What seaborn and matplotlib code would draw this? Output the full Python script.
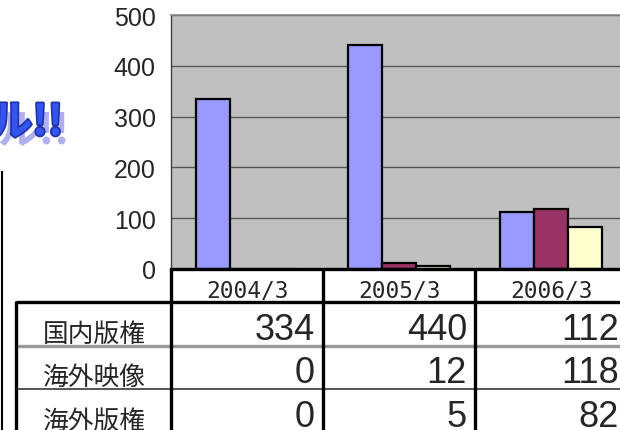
import matplotlib
matplotlib.use("Agg")
import matplotlib.pyplot as plt
import matplotlib.patheffects as pe
import seaborn as sns
import pandas as pd

# データ
periods = ["2004/3", "2005/3", "2006/3"]
series = ["国内版権", "海外映像", "海外版権"]
domestic = [334, 440, 112]
overseas_video = [0, 12, 118]
overseas_rights = [0, 5, 82]
yticks = [0, 100, 200, 300, 400, 500]
colors = ["#9999FF", "#993366", "#FFFFCC"]

values = [domestic, overseas_video, overseas_rights]
df = pd.DataFrame({
    "期": [p for s in series for p in periods],
    "系列": [s for s in series for p in periods],
    "値": [v for vals in values for v in vals],
})

sns.set_style("white")
plt.rcParams["font.family"] = ["Noto Sans CJK JP", "DejaVu Sans"]

W, H = 620, 431
AX_L, AX_R, AX_T, AX_B = 171, 627, 16, 270
ROWS = [303, 347, 390, 434]

fig = plt.figure(figsize=(W / 100, H / 100), dpi=100)
fig.patch.set_facecolor("white")

ax = fig.add_axes([AX_L / W, 1 - AX_B / H, (AX_R - AX_L) / W, (AX_B - AX_T) / H])
ax.set_facecolor("#C0C0C0")
sns.barplot(data=df, x="期", y="値", hue="系列", order=periods, hue_order=series,
            palette=colors, saturation=1, width=0.67, edgecolor="black",
            linewidth=1.6, legend=False, ax=ax)
ax.set_xlim(-0.5, len(periods) - 0.5)
ax.set_ylim(0, 500)
ax.set_yticks(yticks)
ax.set_yticklabels([str(t) for t in yticks], family="Liberation Sans", fontsize=18)
ax.set_xticks([])
ax.set_xlabel("")
ax.set_ylabel("")
ax.yaxis.grid(True, color="#555555", linewidth=1)
ax.set_axisbelow(True)
ax.tick_params(axis="y", direction="out", length=4, width=1, color="#404040", pad=7)
ax.spines["right"].set_visible(False)
ax.spines["top"].set_color("#888888")
ax.spines["top"].set_linewidth(1.2)
ax.spines["left"].set_color("#404040")
ax.spines["left"].set_linewidth(1)
ax.spines["bottom"].set_color("black")
ax.spines["bottom"].set_linewidth(2.4)

# データテーブル（ピクセル座標のオーバーレイ）
tb = fig.add_axes([0, 0, 1, 1], zorder=5)
tb.set_xlim(0, W)
tb.set_ylim(H, 0)
tb.axis("off")
tb.patch.set_alpha(0)

col_w = (AX_R - AX_L) / len(periods)
col_edges = [AX_L + i * col_w for i in range(len(periods) + 1)]

tb.hlines(ROWS[0], 16, W, color="black", linewidth=2.4)
tb.hlines(ROWS[1], 16, W, color="#999999", linewidth=2.4)
tb.hlines(ROWS[2], 16, W, color="#555555", linewidth=1.4)
tb.vlines(16, ROWS[0] - 1, H, color="black", linewidth=2.4)
for x in col_edges[:-1]:
    tb.vlines(x, AX_B, H, color="black", linewidth=2.4)
tb.vlines(2, 172, H, color="black", linewidth=1.5)

for i, p in enumerate(periods):
    tb.text((col_edges[i] + col_edges[i + 1]) / 2, 298, p, ha="center", va="baseline",
            family="DejaVu Sans Mono", fontsize=16.5)

for r, (name, vals) in enumerate(zip(series, values)):
    tb.text(43, ROWS[r + 1] - 5, name, ha="left", va="baseline", fontsize=18.5)
    for i, v in enumerate(vals):
        tb.text(col_edges[i + 1] - 8, ROWS[r + 1] - 7, str(v), ha="right", va="baseline",
                family="Liberation Sans", fontsize=26)

# タイトル（切れている部分）
tb.text(70, 143, "ル!!", ha="right", va="baseline", fontsize=30, fontweight="bold",
        color="#B0B0F0")
tb.text(63, 136, "ル!!", ha="right", va="baseline", fontsize=30, fontweight="bold",
        color="#3355EE", path_effects=[pe.withStroke(linewidth=2.5, foreground="#2233AA")])

fig.savefig("out.png", dpi=100)
